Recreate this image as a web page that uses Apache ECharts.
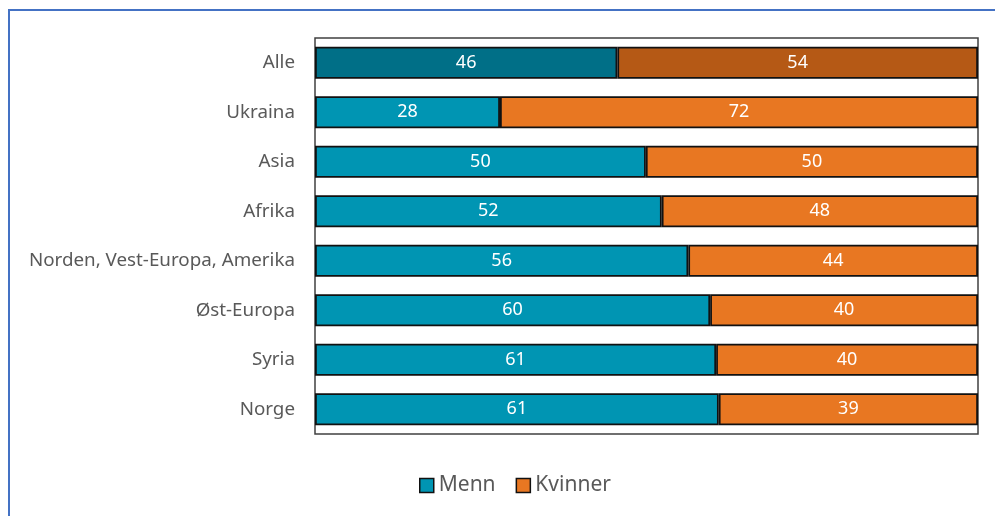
<!DOCTYPE html>
<html>
<head>
<meta charset="utf-8">
<script src="https://cdn.jsdelivr.net/npm/echarts@6/dist/echarts.min.js"></script>
<style>
  html, body { margin: 0; padding: 0; background: #fff; overflow: hidden; }
  #chart { width: 995px; height: 516px; }
</style>
</head>
<body>
<div id="chart"></div>
<script>
  // kategorier, øverst først
  var categories = ['Alle', 'Ukraina', 'Asia', 'Afrika', 'Norden, Vest-Europa, Amerika', 'Øst-Europa', 'Syria', 'Norge'];
  var menn = [45.6, 27.9, 49.9, 52.3, 56.3, 59.6, 60.5, 60.9];
  var kvinner = [54.4, 72.1, 50.1, 47.7, 43.7, 40.4, 39.5, 39.1];

  var colMenn = '#0095b3', colKvinner = '#e87722';
  var colMennAlle = '#006f87', colKvinnerAlle = '#b55915';

  function items(vals, alleColor) {
      return vals.map(function (v, i) {
          return i === 0 ? {value: v, itemStyle: {color: alleColor}} : v;
      });
  }

  var chart = echarts.init(document.getElementById('chart'));
  chart.setOption({
      animation: false,
      textStyle: {fontFamily: 'Noto Sans'},
      graphic: [{
          type: 'rect',
          shape: {x: 9, y: 10, width: 1100, height: 700},
          style: {fill: 'none', stroke: '#4472c4', lineWidth: 2}
      }],
      grid: {
          left: 315, right: 17, top: 38, bottom: 82,
          show: true, borderColor: '#404040', borderWidth: 1.5
      },
      legend: {
          bottom: 15,
          left: 414,
          icon: 'rect',
          itemWidth: 14, itemHeight: 14, itemGap: 20,
          itemStyle: {borderColor: '#111', borderWidth: 1.5},
          textStyle: {color: '#595959', fontSize: 21},
          data: ['Menn', 'Kvinner']
      },
      xAxis: {
          type: 'value', min: 0, max: 100, show: false
      },
      yAxis: {
          type: 'category',
          inverse: true,
          data: categories,
          axisLine: {show: false},
          axisTick: {show: false},
          axisLabel: {color: '#595959', fontSize: 18.8, margin: 20}
      },
      series: [
          {
              name: 'Menn', type: 'bar', stack: 'tot', barWidth: '65%',
              itemStyle: {color: colMenn, borderColor: '#111', borderWidth: 1.8},
              label: {show: true, color: '#fff', fontSize: 18,
                  formatter: function (p) { return Math.round(p.value); }},
              data: items(menn, colMennAlle)
          },
          {
              name: 'Kvinner', type: 'bar', stack: 'tot', barWidth: '65%',
              itemStyle: {color: colKvinner, borderColor: '#111', borderWidth: 1.8},
              label: {show: true, color: '#fff', fontSize: 18,
                  formatter: function (p) { return Math.round(p.value); }},
              data: items(kvinner, colKvinnerAlle)
          }
      ]
  });
</script>
</body>
</html>
